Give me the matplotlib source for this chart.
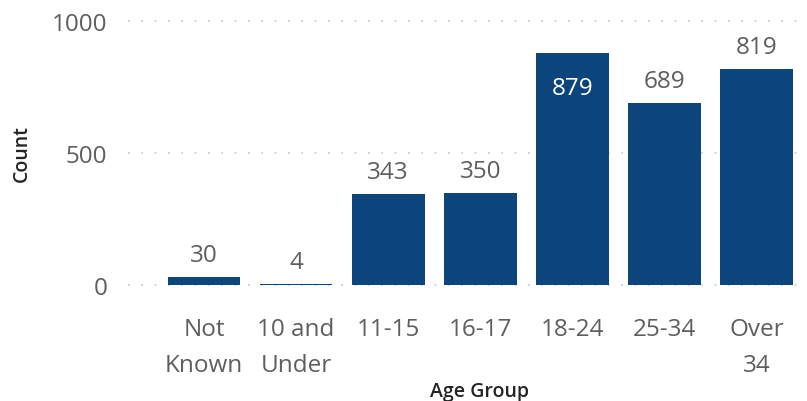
import numpy as np
import matplotlib.pyplot as plt

groups = ['Not\nKnown', '10 and\nUnder', '11-15', '16-17', '18-24', '25-34', 'Over\n34']
counts = [30, 4, 343, 350, 879, 689, 819]
y_ticks = [0, 500, 1000]

bar_col = '#0B457C'
txt_col = '#605E5C'
plt.rcParams['font.family'] = ['Open Sans', 'DejaVu Sans']

W, H = 807, 402
fig = plt.figure(figsize=(W / 100, H / 100), dpi=100)
# axes box in pixels: x 128..807, y 22..286 (0..1000)
ax = fig.add_axes([128 / W, (H - 286) / H, (W - 128) / W, (286 - 22) / H])

x = np.arange(len(groups))
ax.bar(x, counts, width=0.79, color=bar_col, zorder=2)
ax.set_xlim(-0.826, 6.55)
ax.set_ylim(0, 1000)

for xi, c in zip(x, counts):
    if c == max(counts):
        # biggest bar gets its label inside, in white
        ax.annotate(str(c), (xi, c), xytext=(0, -41 * 0.72), textcoords='offset points',
                    ha='center', va='baseline', fontsize=17.5, color='white', zorder=3)
    else:
        ax.annotate(str(c), (xi, c), xytext=(0, 16 * 0.72), textcoords='offset points',
                    ha='center', va='baseline', fontsize=17.5, color=txt_col, zorder=3)

ax.set_yticks(y_ticks)
ax.set_yticklabels([str(v) for v in y_ticks])
ax.set_xticks(x)
ax.set_xticklabels(groups, linespacing=1.65)
ax.tick_params(axis='both', length=0, labelsize=17.5, labelcolor=txt_col)
ax.tick_params(axis='y', pad=15)
ax.tick_params(axis='x', pad=23)
for v in y_ticks:
    ax.axhline(v, color='#C8C6C4', lw=1.2, ls=(0, (1, 7)), zorder=1, clip_on=False)
for s in ax.spines.values():
    s.set_visible(False)

fig.text(22 / W, 1 - 154 / H, 'Count', rotation=90, ha='center', va='center',
         fontsize=14, fontweight='semibold', color='#252423')
fig.text(480 / W, 1 - 392 / H, 'Age Group', ha='center', va='center',
         fontsize=14, fontweight='semibold', color='#252423')

fig.savefig('out.png', dpi=100)
